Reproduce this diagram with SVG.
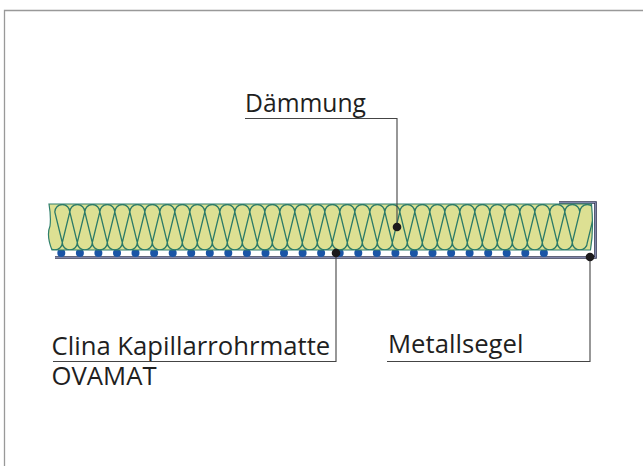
<svg xmlns="http://www.w3.org/2000/svg" width="643" height="466" viewBox="0 0 643 466">
<style>
text{font-family:"Open Sans","Liberation Sans",sans-serif;font-size:25.700px;fill:#1f1f1f}
.lead{fill:none;stroke:#444;stroke-width:1.100}
.dot{fill:#1c1a1c}
.pipe{fill:#1a55a6}
.wool{fill:none;stroke:#2b7a68;stroke-width:1.300}
</style>
<defs>
<clipPath id="body"><path d="M49 204H591.500C593 220 593 235 590.500 250H52C48 240 47.500 232 50 226C51 218 50 210 49 204Z"/></clipPath>
</defs>
<rect width="643" height="466" fill="#fff"/>
<path d="M4.500 466V10.500H643" fill="none" stroke="#999" stroke-width="1.300"/>
<g id="metallsegel">
<path d="M55 257.500H595.500V202.500H559" fill="none" stroke="#2e3350" stroke-width="2.600"/>
<path d="M55 257.500H595.500V202.500H559" fill="none" stroke="#8a90b4" stroke-width="0.900"/>
</g>
<g id="pipes" class="pipe">
<circle cx="61.300" cy="253" r="4"/><circle cx="79.900" cy="253" r="4"/><circle cx="98.400" cy="253" r="4"/><circle cx="117" cy="253" r="4"/><circle cx="135.500" cy="253" r="4"/><circle cx="154.100" cy="253" r="4"/><circle cx="172.700" cy="253" r="4"/><circle cx="191.200" cy="253" r="4"/><circle cx="209.800" cy="253" r="4"/><circle cx="228.300" cy="253" r="4"/><circle cx="246.900" cy="253" r="4"/><circle cx="265.500" cy="253" r="4"/><circle cx="284" cy="253" r="4"/><circle cx="302.600" cy="253" r="4"/><circle cx="321.100" cy="253" r="4"/><circle cx="339.700" cy="253" r="4"/><circle cx="358.300" cy="253" r="4"/><circle cx="376.800" cy="253" r="4"/><circle cx="395.400" cy="253" r="4"/><circle cx="413.900" cy="253" r="4"/><circle cx="432.500" cy="253" r="4"/><circle cx="451.100" cy="253" r="4"/><circle cx="469.600" cy="253" r="4"/><circle cx="488.200" cy="253" r="4"/><circle cx="506.700" cy="253" r="4"/><circle cx="525.300" cy="253" r="4"/><circle cx="543.900" cy="253" r="4"/>
</g>
<g id="daemmung-koerper">
<path d="M49 204H591.500C593 220 593 235 590.500 250H52C48 240 47.500 232 50 226C51 218 50 210 49 204Z" fill="#dde093"/>
<g clip-path="url(#body)">
<path class="wool" d="M39.800 212
l7.500 30.500a7.500 7.500 0 0 0 15 0l7.500-30.500a7.500 7.500 0 0 0-15 0
l7.500 30.500a7.500 7.500 0 0 0 15 0l7.500-30.500a7.500 7.500 0 0 0-15 0
l7.500 30.500a7.500 7.500 0 0 0 15 0l7.500-30.500a7.500 7.500 0 0 0-15 0
l7.500 30.500a7.500 7.500 0 0 0 15 0l7.500-30.500a7.500 7.500 0 0 0-15 0
l7.500 30.500a7.500 7.500 0 0 0 15 0l7.500-30.500a7.500 7.500 0 0 0-15 0
l7.500 30.500a7.500 7.500 0 0 0 15 0l7.500-30.500a7.500 7.500 0 0 0-15 0
l7.500 30.500a7.500 7.500 0 0 0 15 0l7.500-30.500a7.500 7.500 0 0 0-15 0
l7.500 30.500a7.500 7.500 0 0 0 15 0l7.500-30.500a7.500 7.500 0 0 0-15 0
l7.500 30.500a7.500 7.500 0 0 0 15 0l7.500-30.500a7.500 7.500 0 0 0-15 0
l7.500 30.500a7.500 7.500 0 0 0 15 0l7.500-30.500a7.500 7.500 0 0 0-15 0
l7.500 30.500a7.500 7.500 0 0 0 15 0l7.500-30.500a7.500 7.500 0 0 0-15 0
l7.500 30.500a7.500 7.500 0 0 0 15 0l7.500-30.500a7.500 7.500 0 0 0-15 0
l7.500 30.500a7.500 7.500 0 0 0 15 0l7.500-30.500a7.500 7.500 0 0 0-15 0
l7.500 30.500a7.500 7.500 0 0 0 15 0l7.500-30.500a7.500 7.500 0 0 0-15 0
l7.500 30.500a7.500 7.500 0 0 0 15 0l7.500-30.500a7.500 7.500 0 0 0-15 0
l7.500 30.500a7.500 7.500 0 0 0 15 0l7.500-30.500a7.500 7.500 0 0 0-15 0
l7.500 30.500a7.500 7.500 0 0 0 15 0l7.500-30.500a7.500 7.500 0 0 0-15 0
l7.500 30.500a7.500 7.500 0 0 0 15 0l7.500-30.500a7.500 7.500 0 0 0-15 0
l7.500 30.500a7.500 7.500 0 0 0 15 0l7.500-30.500a7.500 7.500 0 0 0-15 0
l7.500 30.500a7.500 7.500 0 0 0 15 0l7.500-30.500a7.500 7.500 0 0 0-15 0
l7.500 30.500a7.500 7.500 0 0 0 15 0l7.500-30.500a7.500 7.500 0 0 0-15 0
l7.500 30.500a7.500 7.500 0 0 0 15 0l7.500-30.500a7.500 7.500 0 0 0-15 0
l7.500 30.500a7.500 7.500 0 0 0 15 0l7.500-30.500a7.500 7.500 0 0 0-15 0
l7.500 30.500a7.500 7.500 0 0 0 15 0l7.500-30.500a7.500 7.500 0 0 0-15 0
l7.500 30.500a7.500 7.500 0 0 0 15 0l7.500-30.500a7.500 7.500 0 0 0-15 0
l7.500 30.500a7.500 7.500 0 0 0 15 0l7.500-30.500a7.500 7.500 0 0 0-15 0
l7.500 30.500a7.500 7.500 0 0 0 15 0l7.500-30.500a7.500 7.500 0 0 0-15 0
l7.500 30.500a7.500 7.500 0 0 0 15 0l7.500-30.500a7.500 7.500 0 0 0-15 0
l7.500 30.500a7.500 7.500 0 0 0 15 0l7.500-30.500a7.500 7.500 0 0 0-15 0
l7.500 30.500a7.500 7.500 0 0 0 15 0l7.500-30.500a7.500 7.500 0 0 0-15 0
l7.500 30.500a7.500 7.500 0 0 0 15 0l7.500-30.500a7.500 7.500 0 0 0-15 0
l7.500 30.500a7.500 7.500 0 0 0 15 0l7.500-30.500a7.500 7.500 0 0 0-15 0
l7.500 30.500a7.500 7.500 0 0 0 15 0l7.500-30.500a7.500 7.500 0 0 0-15 0
l7.500 30.500a7.500 7.500 0 0 0 15 0l7.500-30.500a7.500 7.500 0 0 0-15 0
l7.500 30.500a7.500 7.500 0 0 0 15 0l7.500-30.500a7.500 7.500 0 0 0-15 0
l7.500 30.500a7.500 7.500 0 0 0 15 0l7.500-30.500a7.500 7.500 0 0 0-15 0"/>
</g>
<path d="M49 204H591.500C593 220 593 235 590.500 250H52C48 240 47.500 232 50 226C51 218 50 210 49 204Z" fill="none" stroke="#2f7f6c" stroke-width="1.200"/>
</g>
<g id="connectors">
<path class="lead" d="M245 118.500H397V227"/>
<path class="lead" d="M53 361.500H336V253"/>
<path class="lead" d="M387 361.500H590V257"/>
</g>
<g id="label-daemmung"><text x="245" y="112" style="font-size:24.700px">Dämmung</text><circle class="dot" cx="397" cy="227" r="4.300"/></g>
<g id="label-kapillar"><text x="51.500" y="355">Clina Kapillarrohrmatte</text><text x="51.500" y="385">OVAMAT</text><circle class="dot" cx="336" cy="253" r="4.300"/></g>
<g id="label-segel"><text x="388" y="353">Metallsegel</text><circle class="dot" cx="590" cy="257" r="4.300"/></g>
</svg>
